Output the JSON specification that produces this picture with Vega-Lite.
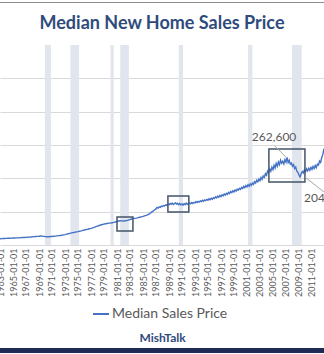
{
  "$schema": "https://vega.github.io/schema/vega-lite/v6.json",
  "autosize": {"type": "none"},
  "width": 324,
  "height": 200,
  "padding": {"left": 0, "top": 45, "right": 0, "bottom": 109},
  "background": "white",
  "title": {"text": "Median New Home Sales Price", "font": "Lato", "fontSize": 18, "fontWeight": "bold", "color": "#2f4b7c", "anchor": "middle", "frame": "group", "baseline": "alphabetic", "offset": 18, "dy": 63},
  "config": {"view": {"stroke": null}},
  "datasets": {
    "price": [
      {"d":"1963-01","v":18800},{"d":"1963-04","v":19000},{"d":"1963-07","v":19300},{"d":"1963-10","v":19600},
      {"d":"1964-01","v":19800},{"d":"1964-04","v":20100},{"d":"1964-07","v":20300},{"d":"1964-10","v":20600},
      {"d":"1965-01","v":20800},{"d":"1965-04","v":21100},{"d":"1965-07","v":21300},{"d":"1965-10","v":21500},
      {"d":"1966-01","v":21700},{"d":"1966-04","v":22100},{"d":"1966-07","v":22300},{"d":"1966-10","v":22600},
      {"d":"1967-01","v":22800},{"d":"1967-04","v":23300},{"d":"1967-07","v":23700},{"d":"1967-10","v":24200},
      {"d":"1968-01","v":24600},{"d":"1968-04","v":25200},{"d":"1968-07","v":25600},{"d":"1968-10","v":26000},
      {"d":"1969-01","v":26300},{"d":"1969-04","v":26800},{"d":"1969-07","v":26500},{"d":"1969-10","v":25800},
      {"d":"1970-01","v":25200},{"d":"1970-04","v":24700},{"d":"1970-07","v":24900},{"d":"1970-10","v":25300},
      {"d":"1971-01","v":25700},{"d":"1971-04","v":26200},{"d":"1971-07","v":26700},{"d":"1971-10","v":27400},
      {"d":"1972-01","v":28000},{"d":"1972-04","v":28600},{"d":"1972-07","v":29300},{"d":"1972-10","v":30300},
      {"d":"1973-01","v":31300},{"d":"1973-04","v":32500},{"d":"1973-07","v":33800},{"d":"1973-10","v":35000},
      {"d":"1974-01","v":36200},{"d":"1974-04","v":37200},{"d":"1974-07","v":38100},{"d":"1974-10","v":39300},
      {"d":"1975-01","v":40300},{"d":"1975-04","v":41400},{"d":"1975-07","v":42500},{"d":"1975-10","v":43800},
      {"d":"1976-01","v":45000},{"d":"1976-04","v":46200},{"d":"1976-07","v":47400},{"d":"1976-10","v":48800},
      {"d":"1977-01","v":50000},{"d":"1977-04","v":51500},{"d":"1977-07","v":53000},{"d":"1977-10","v":55000},
      {"d":"1978-01","v":56800},{"d":"1978-04","v":58500},{"d":"1978-07","v":60000},{"d":"1978-10","v":61500},
      {"d":"1979-01","v":62800},{"d":"1979-04","v":63800},{"d":"1979-07","v":64600},{"d":"1979-10","v":65500},
      {"d":"1980-01","v":66000},{"d":"1980-04","v":66800},{"d":"1980-07","v":67800},{"d":"1980-10","v":69000},
      {"d":"1981-01","v":70500},{"d":"1981-04","v":72000},{"d":"1981-07","v":72800},{"d":"1981-10","v":72500},
      {"d":"1982-01","v":71800},{"d":"1982-04","v":72600},{"d":"1982-07","v":73500},{"d":"1982-10","v":74800},
      {"d":"1983-01","v":76500},{"d":"1983-04","v":78000},{"d":"1983-07","v":79200},{"d":"1983-10","v":80000},
      {"d":"1984-01","v":80800},{"d":"1984-04","v":82000},{"d":"1984-07","v":83200},{"d":"1984-10","v":84500},
      {"d":"1985-01","v":85800},{"d":"1985-04","v":87500},{"d":"1985-07","v":89000},{"d":"1985-10","v":91000},
      {"d":"1986-01","v":93000},{"d":"1986-03","v":96000},{"d":"1986-05","v":98500},{"d":"1986-07","v":101000},{"d":"1986-09","v":103500},{"d":"1986-11","v":106500},
      {"d":"1987-01","v":108000},{"d":"1987-03","v":112500},{"d":"1987-05","v":110500},{"d":"1987-07","v":114500},{"d":"1987-09","v":113000},{"d":"1987-11","v":116500},
      {"d":"1988-01","v":115500},{"d":"1988-03","v":118500},{"d":"1988-05","v":117000},{"d":"1988-07","v":120500},{"d":"1988-09","v":119000},{"d":"1988-11","v":122000},
      {"d":"1989-01","v":121000},{"d":"1989-03","v":124500},{"d":"1989-05","v":122000},{"d":"1989-07","v":125500},{"d":"1989-09","v":121500},{"d":"1989-11","v":124000},
      {"d":"1990-01","v":126000},{"d":"1990-03","v":122500},{"d":"1990-05","v":125000},{"d":"1990-07","v":121000},{"d":"1990-09","v":124500},{"d":"1990-11","v":120500},
      {"d":"1991-01","v":123000},{"d":"1991-03","v":119500},{"d":"1991-05","v":124000},{"d":"1991-07","v":121000},{"d":"1991-09","v":125500},{"d":"1991-11","v":122000},
      {"d":"1992-01","v":124500},{"d":"1992-03","v":126500},{"d":"1992-05","v":123500},{"d":"1992-07","v":127500},{"d":"1992-09","v":124500},{"d":"1992-11","v":128000},
      {"d":"1993-01","v":126500},{"d":"1993-03","v":130500},{"d":"1993-05","v":127500},{"d":"1993-07","v":131000},{"d":"1993-09","v":129000},{"d":"1993-11","v":132500},
      {"d":"1994-01","v":130500},{"d":"1994-03","v":134500},{"d":"1994-05","v":131500},{"d":"1994-07","v":135500},{"d":"1994-09","v":133500},{"d":"1994-11","v":137000},
      {"d":"1995-01","v":134500},{"d":"1995-03","v":138500},{"d":"1995-05","v":136000},{"d":"1995-07","v":140000},{"d":"1995-09","v":137500},{"d":"1995-11","v":142000},
      {"d":"1996-01","v":139500},{"d":"1996-03","v":144500},{"d":"1996-05","v":141500},{"d":"1996-07","v":146500},{"d":"1996-09","v":143500},{"d":"1996-11","v":148500},
      {"d":"1997-01","v":145000},{"d":"1997-03","v":150500},{"d":"1997-05","v":147500},{"d":"1997-07","v":153000},{"d":"1997-09","v":149500},{"d":"1997-11","v":155000},
      {"d":"1998-01","v":152000},{"d":"1998-03","v":158000},{"d":"1998-05","v":154500},{"d":"1998-07","v":160500},{"d":"1998-09","v":157000},{"d":"1998-11","v":163000},
      {"d":"1999-01","v":159000},{"d":"1999-03","v":165000},{"d":"1999-05","v":161500},{"d":"1999-07","v":167500},{"d":"1999-09","v":164500},{"d":"1999-11","v":170000},
      {"d":"2000-01","v":167000},{"d":"2000-03","v":173000},{"d":"2000-05","v":169500},{"d":"2000-07","v":176000},{"d":"2000-09","v":172000},{"d":"2000-11","v":178500},
      {"d":"2001-01","v":174500},{"d":"2001-03","v":181000},{"d":"2001-05","v":176000},{"d":"2001-07","v":183500},{"d":"2001-09","v":179000},{"d":"2001-11","v":186000},
      {"d":"2002-01","v":182000},{"d":"2002-03","v":190000},{"d":"2002-05","v":186000},{"d":"2002-07","v":194500},{"d":"2002-09","v":189500},{"d":"2002-11","v":198000},
      {"d":"2003-01","v":193000},{"d":"2003-03","v":202500},{"d":"2003-05","v":197000},{"d":"2003-07","v":207000},{"d":"2003-09","v":203000},{"d":"2003-11","v":214000},
      {"d":"2004-01","v":209000},{"d":"2004-03","v":222000},{"d":"2004-05","v":216500},{"d":"2004-07","v":228000},{"d":"2004-09","v":221000},{"d":"2004-11","v":233500},
      {"d":"2005-01","v":226000},{"d":"2005-03","v":239000},{"d":"2005-05","v":231000},{"d":"2005-07","v":245000},{"d":"2005-09","v":236500},{"d":"2005-11","v":249000},
      {"d":"2006-01","v":241000},{"d":"2006-03","v":254500},{"d":"2006-05","v":245500},{"d":"2006-07","v":251000},{"d":"2006-09","v":243000},{"d":"2006-11","v":256000},
      {"d":"2007-01","v":248500},{"d":"2007-03","v":262600},{"d":"2007-05","v":247000},{"d":"2007-07","v":254000},{"d":"2007-09","v":242500},{"d":"2007-11","v":246000},
      {"d":"2008-01","v":236500},{"d":"2008-03","v":241000},{"d":"2008-05","v":229500},{"d":"2008-07","v":234000},{"d":"2008-09","v":221500},{"d":"2008-11","v":218000},
      {"d":"2009-01","v":210000},{"d":"2009-03","v":204200},{"d":"2009-05","v":214000},{"d":"2009-07","v":220500},{"d":"2009-09","v":216000},{"d":"2009-11","v":225000},
      {"d":"2010-01","v":219500},{"d":"2010-03","v":228500},{"d":"2010-05","v":222500},{"d":"2010-07","v":230000},{"d":"2010-09","v":224000},{"d":"2010-11","v":233000},
      {"d":"2011-01","v":227000},{"d":"2011-03","v":235500},{"d":"2011-05","v":229500},{"d":"2011-07","v":238500},{"d":"2011-09","v":232000},{"d":"2011-11","v":242500},
      {"d":"2012-01","v":240000},{"d":"2012-03","v":252000},{"d":"2012-05","v":248000},{"d":"2012-07","v":262500},{"d":"2012-09","v":271000},{"d":"2012-11","v":289000}
    ],
    "recessions": [
      {"start":"1969-12","end":"1970-11"},
      {"start":"1973-11","end":"1975-03"},
      {"start":"1980-01","end":"1980-07"},
      {"start":"1981-07","end":"1982-11"},
      {"start":"1990-07","end":"1991-03"},
      {"start":"2001-03","end":"2001-11"},
      {"start":"2007-12","end":"2009-06"}
    ],
    "boxes": [
      {"start":"1981-01-01","end":"1983-06-15","low":42000,"high":84000},
      {"start":"1988-11-01","end":"1992-01-20","low":99000,"high":147000},
      {"start":"2004-05-15","end":"2009-12-01","low":189000,"high":288000}
    ],
    "leaders": [
      {"xa":"2005-04-15","ya":297000,"xb":"2007-02-01","yb":262000},
      {"xa":"2009-12-01","ya":204000,"xb":"2012-12-01","yb":158000}
    ],
    "labels": [
      {"d":"2005-03-01","v":324000,"t":"262,600","side":"center"},
      {"d":"2009-10-15","v":141000,"t":"204,200","side":"left"}
    ],
    "frame": [{"edge":"top","v":727500},{"edge":"bottom","v":-316500}]
  },
  "encoding": {
    "x": {
      "type": "temporal",
      "scale": {"type": "utc", "domain": [{"year":1963,"month":1,"date":1,"utc":true},{"year":2012,"month":11,"date":6,"utc":true}]},
      "axis": {
        "title": "MishTalk", "titleFont": "Lato", "titleFontSize": 12, "titleFontWeight": "bold", "titleColor": "#2f4b7c", "titlePadding": 36,
        "format": "%Y-%m-%d", "labelAngle": -90, "labelFont": "Lato", "labelFontSize": 9, "labelColor": "#595959", "labelPadding": 3,
        "labelOverlap": false, "labelBound": false, "labelFlush": false,
        "ticks": false, "grid": false, "domainColor": "#d9d9d9",
        "values": [
          {"year":1963,"month":1,"date":1,"utc":true},{"year":1965,"month":1,"date":1,"utc":true},{"year":1967,"month":1,"date":1,"utc":true},
          {"year":1969,"month":1,"date":1,"utc":true},{"year":1971,"month":1,"date":1,"utc":true},{"year":1973,"month":1,"date":1,"utc":true},
          {"year":1975,"month":1,"date":1,"utc":true},{"year":1977,"month":1,"date":1,"utc":true},{"year":1979,"month":1,"date":1,"utc":true},
          {"year":1981,"month":1,"date":1,"utc":true},{"year":1983,"month":1,"date":1,"utc":true},{"year":1985,"month":1,"date":1,"utc":true},
          {"year":1987,"month":1,"date":1,"utc":true},{"year":1989,"month":1,"date":1,"utc":true},{"year":1991,"month":1,"date":1,"utc":true},
          {"year":1993,"month":1,"date":1,"utc":true},{"year":1995,"month":1,"date":1,"utc":true},{"year":1997,"month":1,"date":1,"utc":true},
          {"year":1999,"month":1,"date":1,"utc":true},{"year":2001,"month":1,"date":1,"utc":true},{"year":2003,"month":1,"date":1,"utc":true},
          {"year":2005,"month":1,"date":1,"utc":true},{"year":2007,"month":1,"date":1,"utc":true},{"year":2009,"month":1,"date":1,"utc":true},
          {"year":2011,"month":1,"date":1,"utc":true}
        ]
      }
    },
    "y": {
      "type": "quantitative",
      "scale": {"domain": [0, 600000]},
      "axis": {"title": null, "labels": false, "ticks": false, "domain": false, "grid": true, "gridColor": "#d9d9d9", "values": [100000, 200000, 300000, 400000, 500000]}
    }
  },
  "layer": [
    {
      "data": {"name": "recessions"},
      "mark": {"type": "rect", "color": "#e1e6ee"},
      "encoding": {"x": {"field": "start"}, "x2": {"field": "end"}, "y": {"datum": 0}, "y2": {"datum": 600000}}
    },
    {
      "data": {"name": "price"},
      "mark": {"type": "line", "strokeWidth": 1.4, "clip": true},
      "encoding": {
        "x": {"field": "d"},
        "y": {"field": "v"},
        "color": {"datum": "Median Sales Price", "type": "nominal", "scale": {"range": ["#4472c4"]},
          "legend": {"title": null, "orient": "none", "legendX": 92, "legendY": 260, "symbolType": "stroke", "symbolSize": 256, "symbolStrokeWidth": 2, "labelFont": "Lato", "labelFontSize": 14, "labelColor": "#595959", "labelOffset": 2}}
      }
    },
    {
      "data": {"name": "boxes"},
      "mark": {"type": "rect", "fill": null, "fillOpacity": 0, "stroke": "#44546a", "strokeWidth": 1.5},
      "encoding": {"x": {"field": "start"}, "x2": {"field": "end"}, "y": {"field": "low"}, "y2": {"field": "high"}}
    },
    {
      "data": {"name": "leaders"},
      "mark": {"type": "rule", "color": "#a6a6a6", "strokeWidth": 1, "clip": true},
      "encoding": {"x": {"field": "xa"}, "x2": {"field": "xb"}, "y": {"field": "ya"}, "y2": {"field": "yb"}}
    },
    {
      "data": {"name": "labels"},
      "transform": [{"filter": "datum.side === 'center'"}],
      "mark": {"type": "text", "font": "Lato", "fontSize": 12, "color": "#595959", "baseline": "middle", "align": "center"},
      "encoding": {"x": {"field": "d"}, "y": {"field": "v"}, "text": {"field": "t"}}
    },
    {
      "data": {"name": "labels"},
      "transform": [{"filter": "datum.side === 'left'"}],
      "mark": {"type": "text", "font": "Lato", "fontSize": 12, "color": "#595959", "baseline": "middle", "align": "left"},
      "encoding": {"x": {"field": "d"}, "y": {"field": "v"}, "text": {"field": "t"}}
    },
    {
      "data": {"name": "frame"},
      "transform": [{"filter": "datum.edge === 'top'"}],
      "mark": {"type": "rule", "color": "#8c8c8c", "strokeWidth": 1},
      "encoding": {"y": {"field": "v"}}
    },
    {
      "data": {"name": "frame"},
      "transform": [{"filter": "datum.edge === 'bottom'"}],
      "mark": {"type": "rule", "color": "#1f2a55", "strokeWidth": 5},
      "encoding": {"y": {"field": "v"}}
    }
  ]
}
